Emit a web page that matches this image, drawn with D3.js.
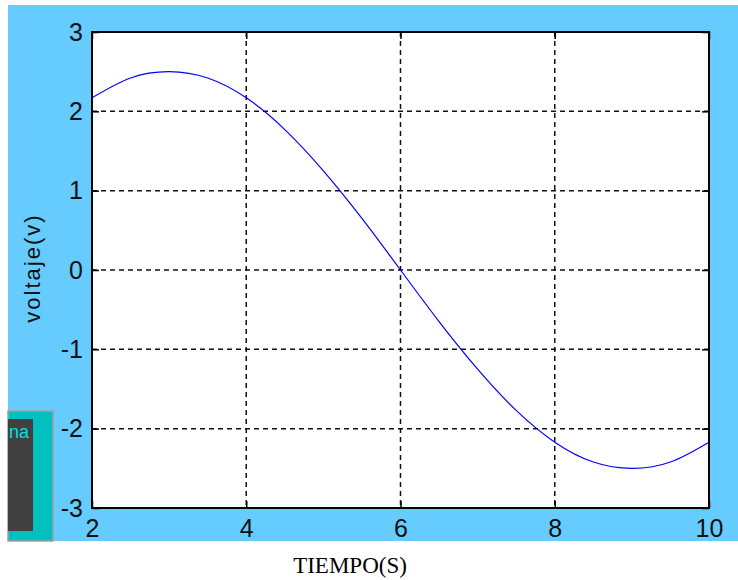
<!DOCTYPE html>
<html>
<head>
<meta charset="utf-8">
<script src="https://cdn.jsdelivr.net/npm/d3@7"></script>
<style>
  body { margin: 0; background: #fff; }
  svg { display: block; }
</style>
</head>
<body>
<div id="chart"></div>
<script>
// values
var tiempo = [2, 2.5, 3, 3.5, 4, 4.5, 5, 5.5, 6, 6.5, 7, 7.5, 8, 8.5, 9, 9.5, 10];
var voltaje = [2.17, 2.42, 2.5, 2.42, 2.17, 1.77, 1.25, 0.65, 0, -0.65, -1.25, -1.77, -2.17, -2.42, -2.5, -2.42, -2.17];
var xTicks = [2, 4, 6, 8, 10];
var yTicks = [-3, -2, -1, 0, 1, 2, 3];

var W = 738, H = 580;
var margin = { top: 32, right: 29, bottom: 72, left: 92 },
  width = W - margin.left - margin.right,
  height = H - margin.top - margin.bottom;

var svg = d3.select("#chart")
  .append("svg")
  .attr("width", W)
  .attr("height", H);

// figure background
svg.append("rect")
  .attr("x", 8).attr("y", 5)
  .attr("width", W - 8).attr("height", 536)
  .attr("fill", "#66ccff");

// the little widget bottom left (cut off at the figure edge)
svg.append("rect")
  .attr("x", 8).attr("y", 411)
  .attr("width", 45).attr("height", 130)
  .attr("fill", "#00c0c0")
  .attr("stroke", "#a0a0a0").attr("stroke-width", 1.5);
svg.append("rect")
  .attr("x", 8).attr("y", 419)
  .attr("width", 25).attr("height", 112)
  .attr("fill", "#404040");
svg.append("clipPath").attr("id", "wclip")
  .append("rect").attr("x", 8).attr("y", 419).attr("width", 25).attr("height", 112);
svg.append("text")
  .attr("clip-path", "url(#wclip)")
  .attr("x", 29).attr("y", 438)
  .attr("text-anchor", "end")
  .attr("fill", "#00e0e0")
  .style("font", "18px 'Liberation Sans', Arial, sans-serif")
  .text("na");

var g = svg.append("g")
  .attr("transform", "translate(" + margin.left + "," + margin.top + ")");

var x = d3.scaleLinear().domain([2, 10]).range([0, width]);
var y = d3.scaleLinear().domain([-3, 3]).range([height, 0]);

g.append("rect")
  .attr("width", width).attr("height", height)
  .attr("fill", "#fff");

// grid
g.selectAll(".vgrid")
  .data(xTicks.slice(1, -1))
  .enter().append("line")
  .attr("x1", d => x(d)).attr("x2", d => x(d))
  .attr("y1", 0).attr("y2", height)
  .attr("stroke", "#111").attr("stroke-width", 1.5)
  .attr("stroke-dasharray", "5,4");
g.selectAll(".hgrid")
  .data(yTicks.slice(1, -1))
  .enter().append("line")
  .attr("y1", d => y(d)).attr("y2", d => y(d))
  .attr("x1", 0).attr("x2", width)
  .attr("stroke", "#111").attr("stroke-width", 1.5)
  .attr("stroke-dasharray", "5,4");

// the curve
var line = d3.line()
  .x(d => x(d[0]))
  .y(d => y(d[1]))
  .curve(d3.curveNatural);
g.append("path")
  .datum(d3.zip(tiempo, voltaje))
  .attr("fill", "none")
  .attr("stroke", "#0000ff")
  .attr("stroke-width", 1.2)
  .attr("d", line);

var tickFont = "25px 'Liberation Sans', Arial, sans-serif";
var fmt = d => String(d);

// axes, ticks inward
var xAxis = g.append("g")
  .attr("transform", "translate(0," + height + ")")
  .call(d3.axisBottom(x).tickValues(xTicks).tickFormat(fmt).tickSizeInner(-7).tickSizeOuter(0));
var yAxis = g.append("g")
  .call(d3.axisLeft(y).tickValues(yTicks).tickFormat(fmt).tickSizeInner(-7).tickSizeOuter(0));
g.append("g")
  .call(d3.axisTop(x).tickValues(xTicks).tickSizeInner(-7).tickSizeOuter(0).tickFormat(""));
g.append("g")
  .attr("transform", "translate(" + width + ",0)")
  .call(d3.axisRight(y).tickValues(yTicks).tickSizeInner(-7).tickSizeOuter(0).tickFormat(""));

g.selectAll(".domain").remove();
g.selectAll(".tick line").attr("stroke", "#000").attr("stroke-width", 1.5);
xAxis.selectAll("text").style("font", tickFont).attr("fill", "#111").attr("dy", "0.71em").attr("y", 11);
yAxis.selectAll("text").style("font", tickFont).attr("fill", "#111").attr("x", -9);

// box
g.append("rect")
  .attr("width", width).attr("height", height)
  .attr("fill", "none")
  .attr("stroke", "#000").attr("stroke-width", 2);

// labels
svg.append("text")
  .attr("x", 350).attr("y", 573)
  .attr("text-anchor", "middle")
  .style("font", "23px 'Liberation Serif', 'Times New Roman', serif")
  .attr("fill", "#000")
  .text("TIEMPO(S)");

svg.append("text")
  .attr("transform", "translate(40,268) rotate(-90)")
  .attr("text-anchor", "middle")
  .style("font", "22px 'Liberation Sans', Arial, sans-serif")
  .style("letter-spacing", "2px")
  .attr("fill", "#111")
  .text("voltaje(v)");
</script>
</body>
</html>
